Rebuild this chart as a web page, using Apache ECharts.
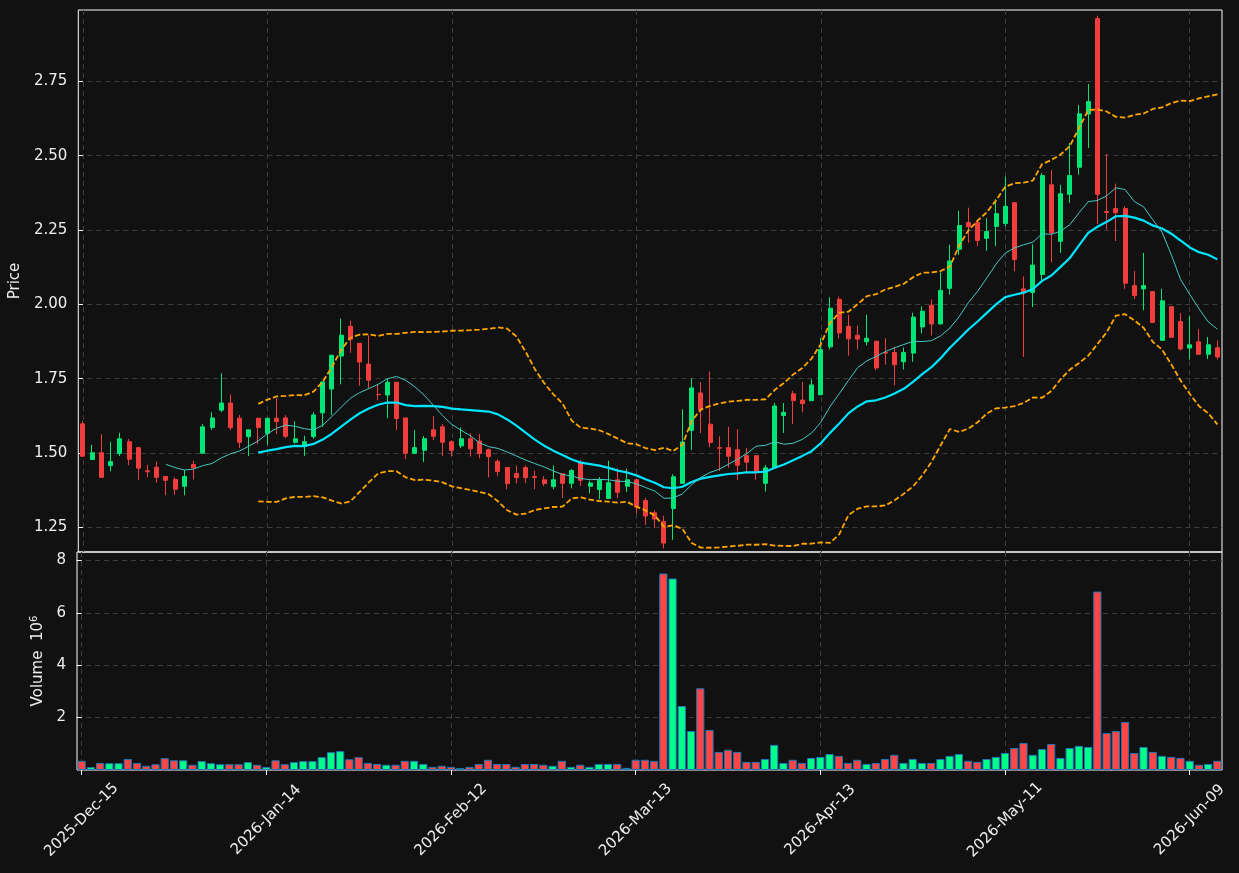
<!DOCTYPE html>
<html>
<head>
<meta charset="utf-8">
<script src="https://cdn.jsdelivr.net/npm/echarts@6/dist/echarts.min.js"></script>
<style>
  html, body { margin: 0; padding: 0; background: #111111; }
  #chart { width: 1239px; height: 873px; }
</style>
</head>
<body>
<div id="chart"></div>
<script>
// daily OHLC (index 0 = 2025-12-15)
const opens = [
  1.598, 1.478, 1.501, 1.457, 1.498, 1.538, 1.518, 1.440, 1.452, 1.421,
  1.411, 1.388, 1.461, 1.499, 1.586, 1.644, 1.668, 1.617, 1.555, 1.617,
  1.566, 1.617, 1.618, 1.536, 1.527, 1.555, 1.635, 1.715, 1.826, 1.926,
  1.869, 1.799, 1.697, 1.695, 1.738, 1.618, 1.499, 1.509, 1.578, 1.588,
  1.538, 1.524, 1.548, 1.540, 1.511, 1.472, 1.451, 1.431, 1.451, 1.421,
  1.410, 1.387, 1.430, 1.398, 1.468, 1.388, 1.377, 1.347, 1.410, 1.388,
  1.410, 1.340, 1.299, 1.269, 1.313, 1.398, 1.576, 1.702, 1.597, 1.518,
  1.518, 1.511, 1.491, 1.491, 1.398, 1.450, 1.626, 1.699, 1.678, 1.676,
  1.696, 1.857, 2.017, 1.926, 1.896, 1.874, 1.876, 1.838, 1.838, 1.807,
  1.836, 1.924, 1.997, 1.934, 2.054, 2.185, 2.275, 2.275, 2.222, 2.262,
  2.272, 2.342, 2.052, 2.040, 2.100, 2.402, 2.212, 2.370, 2.461, 2.640,
  2.961, 2.312, 2.322, 2.322, 2.063, 2.052, 2.043, 1.879, 1.992, 1.942,
  1.853, 1.874, 1.832, 1.854
];
const closes = [
  1.489, 1.501, 1.418, 1.471, 1.548, 1.479, 1.449, 1.437, 1.418, 1.408,
  1.378, 1.421, 1.450, 1.588, 1.618, 1.668, 1.585, 1.536, 1.578, 1.586,
  1.617, 1.606, 1.556, 1.548, 1.538, 1.628, 1.739, 1.829, 1.896, 1.882,
  1.806, 1.745, 1.696, 1.738, 1.616, 1.499, 1.518, 1.548, 1.556, 1.536,
  1.509, 1.548, 1.514, 1.498, 1.488, 1.438, 1.397, 1.417, 1.417, 1.418,
  1.397, 1.410, 1.398, 1.441, 1.408, 1.399, 1.410, 1.400, 1.368, 1.410,
  1.318, 1.288, 1.278, 1.197, 1.420, 1.537, 1.719, 1.645, 1.535, 1.516,
  1.489, 1.459, 1.469, 1.438, 1.450, 1.658, 1.637, 1.676, 1.666, 1.729,
  1.848, 1.987, 1.904, 1.884, 1.883, 1.886, 1.786, 1.836, 1.797, 1.838,
  1.957, 1.977, 1.934, 2.047, 2.146, 2.265, 2.261, 2.215, 2.245, 2.305,
  2.330, 2.151, 2.040, 2.132, 2.433, 2.240, 2.372, 2.433, 2.641, 2.682,
  2.370, 2.309, 2.308, 2.071, 2.030, 2.063, 1.939, 2.012, 1.889, 1.850,
  1.864, 1.832, 1.864, 1.823
];
const lows = [
  1.489, 1.478, 1.418, 1.438, 1.490, 1.459, 1.409, 1.418, 1.400, 1.358,
  1.359, 1.358, 1.411, 1.499, 1.577, 1.637, 1.577, 1.517, 1.490, 1.530,
  1.528, 1.563, 1.550, 1.532, 1.490, 1.548, 1.588, 1.628, 1.731, 1.837,
  1.726, 1.717, 1.677, 1.617, 1.577, 1.479, 1.499, 1.470, 1.543, 1.490,
  1.488, 1.517, 1.488, 1.482, 1.418, 1.422, 1.378, 1.398, 1.399, 1.378,
  1.389, 1.378, 1.349, 1.381, 1.389, 1.364, 1.344, 1.347, 1.349, 1.368,
  1.296, 1.258, 1.249, 1.179, 1.208, 1.398, 1.510, 1.567, 1.519, 1.440,
  1.451, 1.410, 1.430, 1.410, 1.370, 1.450, 1.567, 1.597, 1.637, 1.676,
  1.696, 1.848, 1.885, 1.827, 1.848, 1.862, 1.778, 1.797, 1.728, 1.781,
  1.807, 1.902, 1.895, 1.934, 2.033, 2.166, 2.207, 2.196, 2.180, 2.196,
  2.262, 2.111, 1.823, 1.991, 2.072, 2.141, 2.173, 2.341, 2.436, 2.526,
  2.270, 2.251, 2.213, 2.052, 2.018, 1.980, 1.939, 1.879, 1.889, 1.845,
  1.814, 1.832, 1.816, 1.814
];
const highs = [
  1.608, 1.527, 1.563, 1.538, 1.568, 1.547, 1.518, 1.460, 1.471, 1.421,
  1.418, 1.443, 1.474, 1.597, 1.637, 1.768, 1.697, 1.628, 1.578, 1.617,
  1.617, 1.684, 1.627, 1.607, 1.558, 1.637, 1.739, 1.829, 1.952, 1.945,
  1.869, 1.895, 1.731, 1.749, 1.738, 1.618, 1.577, 1.557, 1.624, 1.597,
  1.543, 1.586, 1.566, 1.564, 1.515, 1.479, 1.451, 1.458, 1.458, 1.441,
  1.422, 1.458, 1.430, 1.446, 1.476, 1.407, 1.419, 1.474, 1.448, 1.448,
  1.410, 1.349, 1.307, 1.289, 1.429, 1.647, 1.751, 1.738, 1.774, 1.556,
  1.588, 1.580, 1.517, 1.491, 1.460, 1.668, 1.668, 1.709, 1.739, 1.748,
  1.887, 2.024, 2.026, 1.965, 1.929, 1.965, 1.876, 1.886, 1.857, 1.855,
  1.972, 1.993, 2.017, 2.107, 2.200, 2.315, 2.325, 2.285, 2.290, 2.354,
  2.430, 2.342, 2.094, 2.202, 2.442, 2.452, 2.402, 2.543, 2.670, 2.741,
  2.971, 2.506, 2.406, 2.330, 2.112, 2.173, 2.043, 2.052, 1.992, 1.971,
  1.962, 1.917, 1.890, 1.879
];
// volume in millions
const volumes = [
  0.35, 0.11, 0.27, 0.26, 0.26, 0.42, 0.27, 0.16, 0.22, 0.45,
  0.37, 0.37, 0.20, 0.34, 0.26, 0.22, 0.22, 0.22, 0.30, 0.20,
  0.11, 0.37, 0.22, 0.30, 0.34, 0.34, 0.49, 0.68, 0.72, 0.41,
  0.49, 0.27, 0.23, 0.20, 0.20, 0.35, 0.35, 0.23, 0.12, 0.16,
  0.12, 0.07, 0.12, 0.23, 0.39, 0.23, 0.23, 0.12, 0.23, 0.23,
  0.20, 0.16, 0.35, 0.12, 0.20, 0.12, 0.23, 0.23, 0.23, 0.08,
  0.39, 0.39, 0.35, 7.50, 7.31, 2.44, 1.49, 3.12, 1.53, 0.69,
  0.77, 0.69, 0.31, 0.31, 0.42, 0.96, 0.27, 0.39, 0.27, 0.46,
  0.50, 0.61, 0.54, 0.27, 0.39, 0.23, 0.27, 0.42, 0.58, 0.27,
  0.42, 0.27, 0.27, 0.42, 0.54, 0.61, 0.35, 0.31, 0.42, 0.50,
  0.65, 0.84, 1.03, 0.58, 0.80, 0.99, 0.46, 0.84, 0.92, 0.88,
  6.81, 1.41, 1.49, 1.83, 0.65, 0.88, 0.69, 0.54, 0.50, 0.46,
  0.35, 0.20, 0.23, 0.35
];

const startDate = "2025-12-15";
const holidays = ["2025-12-25", "2026-01-01", "2026-01-19", "2026-02-16", "2026-04-03", "2026-05-25"];
const tickIdx = [0, 20, 40, 60, 80, 100, 120];
const priceTicks = [1.25, 1.5, 1.75, 2.0, 2.25, 2.5, 2.75];
const volTicks = [2, 4, 6, 8];

const MON = ["Jan", "Feb", "Mar", "Apr", "May", "Jun", "Jul", "Aug", "Sep", "Oct", "Nov", "Dec"];

// trading days (weekdays minus market holidays)
function tradingDays(start, n) {
  let d = new Date(start + "T00:00:00Z");
  let out = [];
  while (out.length < n) {
    let iso = d.toISOString().slice(0, 10);
    let wd = d.getUTCDay();
    if (wd !== 0 && wd !== 6 && holidays.indexOf(iso) < 0) {
      out.push(d.getUTCFullYear() + "-" + MON[d.getUTCMonth()] + "-" + String(d.getUTCDate()).padStart(2, "0"));
    }
    d = new Date(d.getTime() + 86400000);
  }
  return out;
}
const dates = tradingDays(startDate, closes.length);

// indicators derived from the closes
function sma(arr, n) {
  return arr.map((v, i) => {
    if (i < n - 1) return null;
    let s = 0;
    for (let k = i - n + 1; k <= i; k++) s += arr[k];
    return s / n;
  });
}
function rollStd(arr, n) {
  const m = sma(arr, n);
  return arr.map((v, i) => {
    if (i < n - 1) return null;
    let s = 0;
    for (let k = i - n + 1; k <= i; k++) s += (arr[k] - m[i]) ** 2;
    return Math.sqrt(s / (n - 1));
  });
}
const ma10 = sma(closes, 10);
const ma20 = sma(closes, 20);
const sd20 = rollStd(closes, 20);
const bbUp = ma20.map((m, i) => (m == null ? null : m + 2 * sd20[i]));
const bbLo = ma20.map((m, i) => (m == null ? null : m - 2 * sd20[i]));

function toXY(arr) {
  let out = [];
  arr.forEach((v, i) => { if (v != null) out.push([i, v]); });
  return out;
}

const UP = "#00e676";
const DOWN = "#f23d3d";
const VUP = "#00ff88";
const VDOWN = "#ff4545";
const TXT = "#eeeeee";
const GRIDLINE = { show: true, lineStyle: { color: "#3d3d3d", type: [5, 4], width: 1 } };

let chartDom = document.getElementById("chart");
let myChart = echarts.init(chartDom, null, { renderer: "canvas" });

let option = {
  backgroundColor: "#111111",
  animation: false,
  textStyle: { fontFamily: "DejaVu Sans" },
  grid: [
    { left: 77, right: 17, top: 10, height: 542, show: true, borderColor: "#ffffff", borderWidth: 1, backgroundColor: "transparent" },
    { left: 77, right: 17, top: 552, height: 218, show: true, borderColor: "#ffffff", borderWidth: 1, backgroundColor: "transparent" }
  ],
  xAxis: [
    {
      type: "value", gridIndex: 0, min: -0.5, max: closes.length - 0.5,
      axisLine: { show: false },
      axisTick: { show: false, customValues: tickIdx },
      axisLabel: { show: false, customValues: tickIdx },
      splitLine: GRIDLINE
    },
    {
      type: "value", gridIndex: 1, min: -0.5, max: closes.length - 0.5,
      axisLine: { show: false },
      axisTick: { show: true, length: 5, customValues: tickIdx, lineStyle: { color: "#ffffff" } },
      axisLabel: {
        show: true, customValues: tickIdx, rotate: 45, margin: 50,
        align: "center", verticalAlign: "middle",
        color: TXT, fontSize: 15, fontFamily: "DejaVu Sans",
        formatter: (v) => dates[Math.round(v)] || ""
      },
      splitLine: GRIDLINE
    }
  ],
  yAxis: [
    {
      type: "value", gridIndex: 0, min: 1.167, max: 2.99,
      name: "Price", nameLocation: "middle", nameGap: 42,
      nameTextStyle: { color: TXT, fontSize: 15, fontFamily: "DejaVu Sans" },
      axisLine: { show: false },
      axisTick: { show: true, length: 5, customValues: priceTicks, lineStyle: { color: "#ffffff" } },
      axisLabel: {
        show: true, customValues: priceTicks, margin: 11, color: TXT, fontSize: 15, fontFamily: "DejaVu Sans",
        formatter: (v) => v.toFixed(2)
      },
      splitLine: GRIDLINE
    },
    {
      type: "value", gridIndex: 1, min: 0, max: 8.32,
      name: "Volume  10{sup|6}", nameLocation: "middle", nameGap: 22,
      nameTextStyle: {
        color: TXT, fontSize: 15, fontFamily: "DejaVu Sans",
        rich: { sup: { fontSize: 10, color: TXT, fontFamily: "DejaVu Sans", verticalAlign: "top", padding: [0, 0, 8, 0] } }
      },
      axisLine: { show: false },
      axisTick: { show: true, length: 5, customValues: volTicks, lineStyle: { color: "#ffffff" } },
      axisLabel: { show: true, customValues: volTicks, margin: 11, color: TXT, fontSize: 15, fontFamily: "DejaVu Sans" },
      splitLine: GRIDLINE
    }
  ],
  series: [
    {
      name: "OHLC",
      type: "candlestick",
      xAxisIndex: 0, yAxisIndex: 0,
      barWidth: 4.5,
      encode: { x: 0, y: [1, 2, 3, 4] },
      itemStyle: { color: UP, color0: DOWN, borderColor: UP, borderColor0: DOWN, borderWidth: 1 },
      data: closes.map((c, i) => [i, opens[i], c, lows[i], highs[i]])
    },
    {
      name: "BB upper", type: "line", xAxisIndex: 0, yAxisIndex: 0, showSymbol: false, z: 3,
      lineStyle: { color: "#ffa500", width: 1.8, type: [5.5, 2.5] },
      data: toXY(bbUp)
    },
    {
      name: "BB lower", type: "line", xAxisIndex: 0, yAxisIndex: 0, showSymbol: false, z: 3,
      lineStyle: { color: "#ffa500", width: 1.8, type: [5.5, 2.5] },
      data: toXY(bbLo)
    },
    {
      name: "MA20", type: "line", xAxisIndex: 0, yAxisIndex: 0, showSymbol: false, z: 3,
      lineStyle: { color: "#00e5ff", width: 2.2 },
      data: toXY(ma20)
    },
    {
      name: "MA10", type: "line", xAxisIndex: 0, yAxisIndex: 0, showSymbol: false, z: 3,
      lineStyle: { color: "#45c9c2", width: 1 },
      data: toXY(ma10)
    },
    {
      name: "Volume",
      type: "bar",
      xAxisIndex: 1, yAxisIndex: 1,
      barWidth: 8.2,
      data: volumes.map((v, i) => ({
        value: [i, v],
        itemStyle: { color: closes[i] >= opens[i] ? VUP : VDOWN, borderColor: "#1f77b4", borderWidth: 1 }
      }))
    }
  ]
};
myChart.setOption(option);
</script>
</body>
</html>
